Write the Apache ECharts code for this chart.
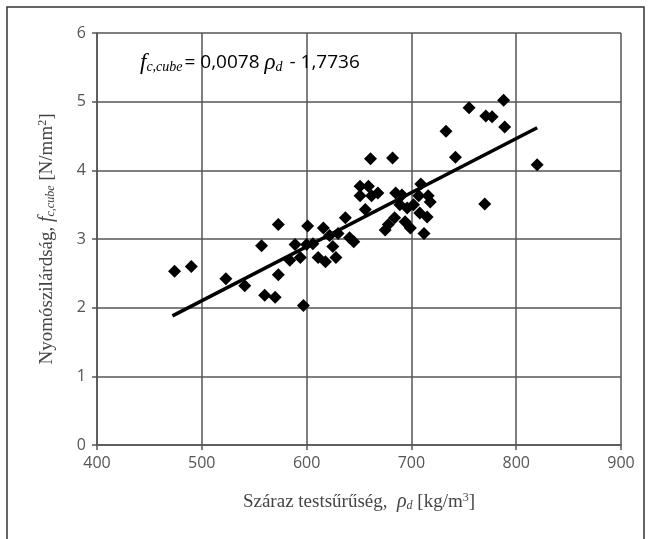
<!DOCTYPE html>
<html><head><meta charset="utf-8">
<script src="https://cdn.jsdelivr.net/npm/echarts@6/dist/echarts.min.js"></script>
<style>html,body{margin:0;padding:0;background:#fff}#c{width:651px;height:539px}</style>
</head><body><div id="c"></div>
<script>
// measured points: density (kg/m3) and strength (N/mm2)
const density = [474,490,523,541,557,560,570,573,573,584,589,594,597,601,600,606,611,616,618,622,625,628,630,637,641,645,651,651,659,661,656,662,668,675,678,682,685,684,689,691,694,696,699,702,707,708,709,712,715,716,718,733,742,755,771,777,788,789,770,820];
const strength = [2.53,2.60,2.42,2.32,2.90,2.18,2.15,3.21,2.48,2.69,2.92,2.73,2.03,3.19,2.92,2.93,2.73,3.16,2.67,3.05,2.89,2.73,3.08,3.31,3.02,2.96,3.77,3.63,3.77,4.17,3.43,3.63,3.67,3.13,3.21,4.18,3.67,3.31,3.50,3.64,3.25,3.45,3.16,3.50,3.63,3.38,3.80,3.08,3.32,3.63,3.54,4.57,4.19,4.91,4.79,4.78,5.02,4.63,3.51,4.08];
const trendX = [472, 820];
const trendY = [1.88, 4.62];
const xTicks = [400,500,600,700,800,900];
const yTicks = [0,1,2,3,4,5,6];

const chart = echarts.init(document.getElementById('c'), null, {renderer:'canvas'});
const serif = '"Liberation Serif","DejaVu Serif",serif';
const sans = '"Open Sans","Liberation Sans",sans-serif';
const nameRich = {
  t:{fontFamily:serif,fontSize:19,color:'#444'},
  i:{fontFamily:serif,fontStyle:'italic',fontSize:20,color:'#444'},
  s:{fontFamily:serif,fontStyle:'italic',fontSize:12,color:'#444',verticalAlign:'bottom',padding:[7,0,0,0]},
  sup:{fontFamily:serif,fontSize:12,color:'#444',verticalAlign:'top',padding:[0,0,7,0]}
};
chart.setOption({
  animation:false,
  backgroundColor:'#fff',
  grid:{left:97,right:30,top:33,bottom:94},
  xAxis:{type:'value',min:xTicks[0],max:xTicks[xTicks.length-1],interval:100,
    axisLine:{show:true,lineStyle:{color:'#555',width:1.5}},
    axisTick:{show:true,inside:false,length:5,lineStyle:{color:'#555',width:1.5}},
    axisLabel:{color:'#555',fontFamily:sans,fontSize:16,margin:10},
    splitLine:{show:true,lineStyle:{color:'#555',width:1.5}},
    name:'{t|Száraz testsűrűség,  }{i|ρ}{s|d}{t| [kg/m}{sup|3}{t|]}',
    nameLocation:'middle',nameGap:47,
    nameTextStyle:{rich:nameRich}
  },
  yAxis:{type:'value',min:yTicks[0],max:yTicks[yTicks.length-1],interval:1,
    axisLine:{show:true,lineStyle:{color:'#555',width:1.5}},
    axisTick:{show:true,inside:false,length:5,lineStyle:{color:'#555',width:1.5}},
    axisLabel:{color:'#555',fontFamily:sans,fontSize:16,margin:11},
    splitLine:{show:true,lineStyle:{color:'#555',width:1.5}},
    name:'{t|Nyomószilárdság, }{i|f}{s|c,cube}{t| [N/mm}{sup|2}{t|]}',
    nameLocation:'middle',nameGap:40,nameRotate:90,
    nameTextStyle:{rich:nameRich}
  },
  series:[
    {type:'scatter',symbol:'diamond',symbolSize:13,itemStyle:{color:'#000',opacity:1},
      data:density.map((d,i)=>[d,strength[i]]),z:3},
    {type:'line',symbol:'none',lineStyle:{color:'#000',width:3.5},
      data:trendX.map((d,i)=>[d,trendY[i]]),z:4}
  ],
  graphic:[
    {type:'rect',shape:{x:7,y:7,width:637,height:545},style:{fill:'none',stroke:'#333',lineWidth:1.5},silent:true},
    {type:'text',left:140,top:51,z:10,style:{
      text:'{i|f}{s|c,cube}{t|= 0,0078 }{i|ρ}{s|d}{t| - 1,7736}',
      rich:{
        t:{fontFamily:sans,fontSize:19,color:'#444'},
        i:{fontFamily:serif,fontStyle:'italic',fontSize:23,color:'#444'},
        s:{fontFamily:serif,fontStyle:'italic',fontSize:14,color:'#444',verticalAlign:'bottom',padding:[9,2,0,0]}
      }
    }}
  ]
});
</script></body></html>
